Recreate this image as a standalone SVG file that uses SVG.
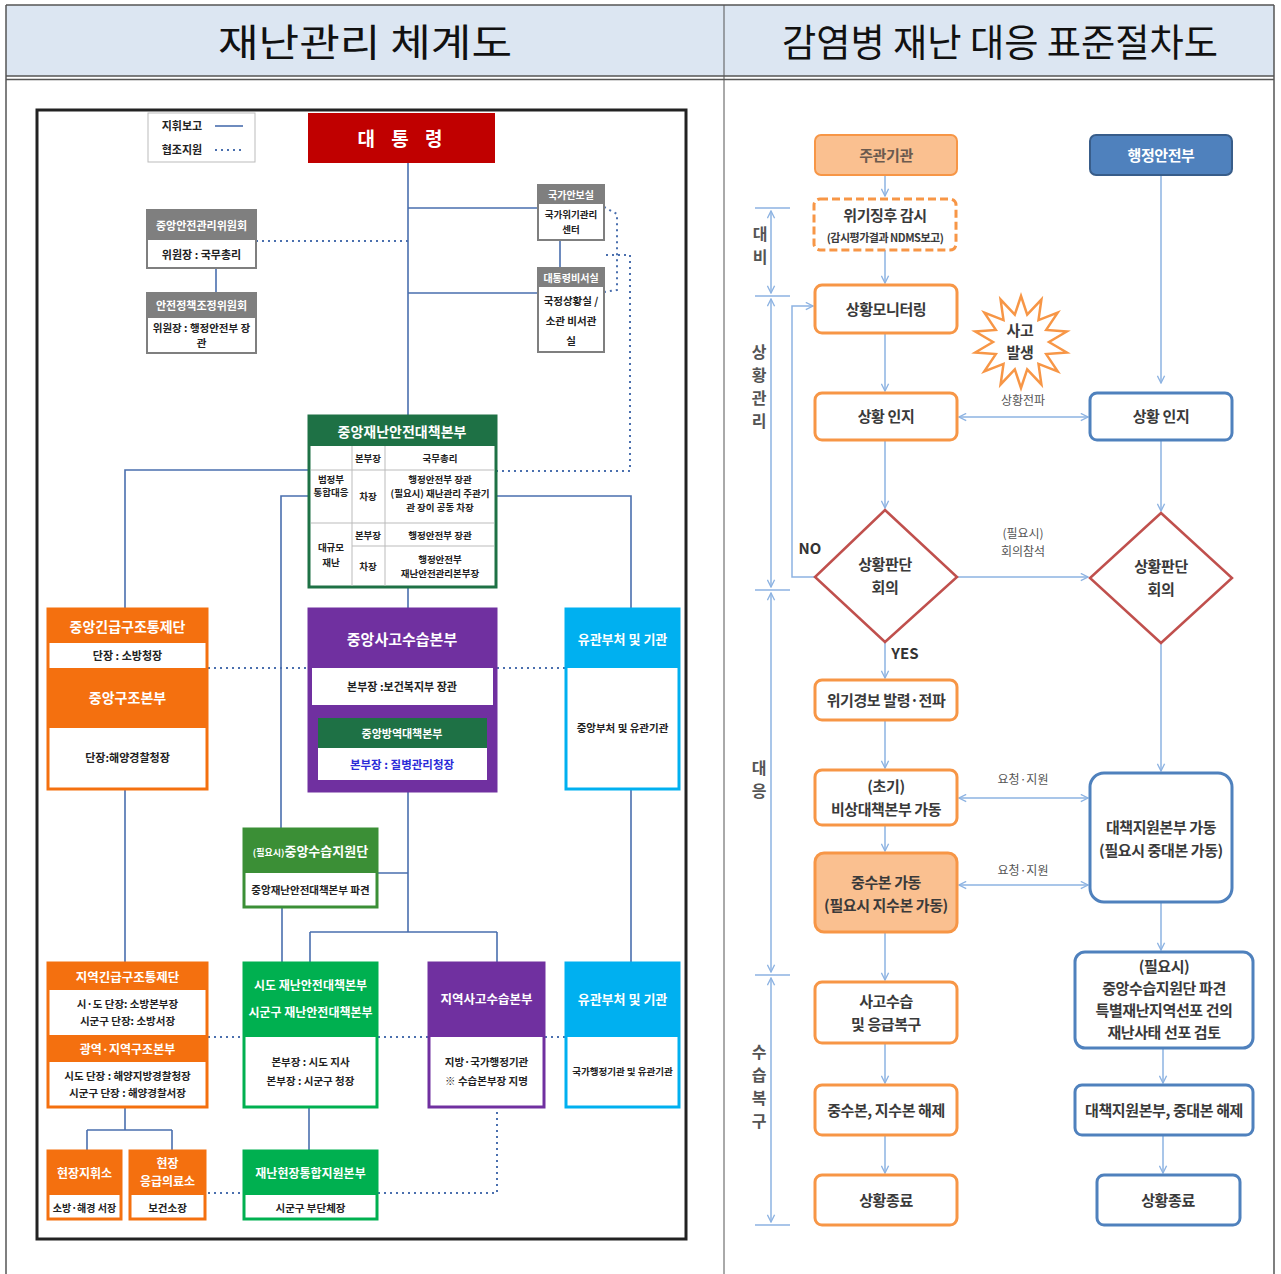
<svg xmlns="http://www.w3.org/2000/svg" width="1281" height="1274" viewBox="0 0 1281 1274">
<style>
text{font-family:"Noto Sans CJK KR","Noto Sans",sans-serif;}
.title{font-size:38px;fill:#111;}
.wh{fill:#fff;font-weight:bold;text-anchor:middle;}
.bk{fill:#222;font-weight:bold;text-anchor:middle;}
.ln{stroke:#4a6fae;stroke-width:1.6;fill:none;}
.dt{stroke:#4a6fae;stroke-width:2;fill:none;stroke-dasharray:2 4;}
.ob{fill:#fff;stroke:#f79646;stroke-width:3;}
.bb{fill:#fff;stroke:#4f81bd;stroke-width:3;}
.rt{font-size:15px;font-weight:bold;fill:#3a3a3a;text-anchor:middle;letter-spacing:-0.4px;}
.ar{stroke:#8db3e2;stroke-width:1.5;fill:none;}
.sm{font-size:12px;fill:#555;text-anchor:middle;}
.ph{font-size:16px;font-weight:bold;fill:#555;text-anchor:middle;}
.grid{stroke:#bbb;stroke-width:1;}
</style>
<defs>
<marker id="ah" viewBox="0 0 10 10" refX="9" refY="5" markerWidth="9" markerHeight="9" orient="auto-start-reverse" markerUnits="userSpaceOnUse"><path d="M1,1 L9,5 L1,9" fill="none" stroke="#8db3e2" stroke-width="1.5"/></marker>
<marker id="ph" viewBox="0 0 10 10" refX="9" refY="5" markerWidth="9" markerHeight="9" orient="auto-start-reverse" markerUnits="userSpaceOnUse"><path d="M1,1 L9,5 L1,9" fill="none" stroke="#8db3e2" stroke-width="1.5"/></marker>
</defs>
<rect width="1281" height="1274" fill="#fff"/>

<!-- header table -->
<g id="header">
<rect x="6" y="5" width="1268" height="71" fill="#dce6f2"/>
<line x1="6" y1="5" x2="1274" y2="5" stroke="#555" stroke-width="1.5"/>
<line x1="6" y1="76" x2="1274" y2="76" stroke="#555" stroke-width="1.5"/>
<line x1="6" y1="79.5" x2="1274" y2="79.5" stroke="#555" stroke-width="1.5"/>
<line x1="6" y1="5" x2="6" y2="1274" stroke="#555" stroke-width="1.5"/>
<line x1="1274" y1="5" x2="1274" y2="1274" stroke="#555" stroke-width="1.5"/>
<line x1="724" y1="5" x2="724" y2="1274" stroke="#555" stroke-width="1"/>
<text class="title" x="218" y="56" textLength="294" lengthAdjust="spacingAndGlyphs">재난관리  체계도</text>
<text class="title" x="782" y="56" textLength="436" lengthAdjust="spacingAndGlyphs">감염병 재난 대응 표준절차도</text>
</g>

<!-- LEFT CHART -->
<rect x="37" y="110" width="649" height="1129" fill="none" stroke="#222" stroke-width="3"/>

<g id="left-connectors">
<path class="ln" d="M408,163 V415"/>
<path class="ln" d="M408,208 H538 M408,293 H538 M560,240 V268 M216,268 V293"/>
<path class="dt" d="M256,241 H408"/>
<path class="dt" d="M604,207 L617,214 V290 L604,292"/>
<path class="dt" d="M606,255 H630 V471 H497"/>
<path class="ln" d="M308,470 H125 V608"/>
<path class="ln" d="M308,496 H281 V828"/>
<path class="ln" d="M497,496 H631 V608"/>
<path class="ln" d="M408,588 V608"/>
<path class="ln" d="M408,792 V932 M310,932 H497 M310,932 V962 M497,932 V962 M378,873 H408"/>
<path class="ln" d="M282,908 V962"/>
<path class="ln" d="M125,790 V962 M631,790 V962"/>
<path class="ln" d="M125,1108 V1130 M87,1130 H172 M87,1130 V1150 M172,1130 V1150"/>
<path class="ln" d="M309,1108 V1150"/>
<path class="dt" d="M208,668 H308 M497,668 H565"/>
<path class="dt" d="M208,1037 H243 M378,1037 H428 M545,1037 H565"/>
<path class="dt" d="M208,1193 H243 M378,1193 H497 V1108"/>
</g>

<g id="legend">
<rect x="148" y="113" width="107" height="49" fill="#fff" stroke="#bbb"/>
<text class="bk" x="182" y="130" font-size="11">지휘보고</text>
<line x1="215" y1="126" x2="243" y2="126" stroke="#4a6fae" stroke-width="1.6"/>
<text class="bk" x="182" y="154" font-size="11">협조지원</text>
<line x1="215" y1="150" x2="243" y2="150" class="dt" stroke-width="1.5"/>
</g>

<g id="president">
<rect x="308" y="113" width="187" height="50" fill="#c00000"/>
<text class="wh" x="403" y="146" font-size="19" letter-spacing="6">대 통 령</text>
</g>

<g id="central-safety-committee">
<rect x="147" y="210" width="109" height="58" fill="#fff" stroke="#7f7f7f" stroke-width="2"/>
<rect x="147" y="210" width="109" height="30" fill="#7f7f7f"/>
<text class="wh" x="201.5" y="230" font-size="11">중앙안전관리위원회</text>
<text class="bk" x="201.5" y="259" font-size="11">위원장 : 국무총리</text>
</g>

<g id="safety-policy-committee">
<rect x="147" y="293" width="109" height="60" fill="#fff" stroke="#7f7f7f" stroke-width="2"/>
<rect x="147" y="293" width="109" height="25" fill="#7f7f7f"/>
<text class="wh" x="201.5" y="310" font-size="11">안전정책조정위원회</text>
<text class="bk" x="201.5" y="332" font-size="10.5">위원장 : 행정안전부 장</text>
<text class="bk" x="201.5" y="347" font-size="10.5">관</text>
</g>

<g id="national-security-office">
<rect x="538" y="185" width="66" height="55" fill="#fff" stroke="#7f7f7f" stroke-width="2"/>
<rect x="538" y="185" width="66" height="19" fill="#7f7f7f"/>
<text class="wh" x="571" y="199" font-size="10">국가안보실</text>
<text class="bk" x="571" y="218" font-size="9.5">국가위기관리</text>
<text class="bk" x="571" y="233" font-size="9.5">센터</text>
</g>

<g id="presidential-secretariat">
<rect x="538" y="268" width="66" height="84" fill="#fff" stroke="#7f7f7f" stroke-width="2"/>
<rect x="538" y="268" width="66" height="19" fill="#7f7f7f"/>
<text class="wh" x="571" y="282" font-size="10">대통령비서실</text>
<text class="bk" x="571" y="305" font-size="10.5">국정상황실 /</text>
<text class="bk" x="571" y="325" font-size="10.5">소관 비서관</text>
<text class="bk" x="571" y="345" font-size="10.5">실</text>
</g>

<g id="cdsch">
<rect x="309" y="416" width="187" height="171" fill="#fff" stroke="#1e7145" stroke-width="3"/>
<rect x="309" y="416" width="187" height="30" fill="#1e7145"/>
<text class="wh" x="402" y="437" font-size="14">중앙재난안전대책본부</text>
<path class="grid" d="M311,470 H494 M311,523 H494 M352,546 H494 M352,446 V586 M385,446 V586"/>
<text class="bk" x="331" y="483" font-size="9.5">범정부</text>
<text class="bk" x="331" y="496" font-size="9.5">통합대응</text>
<text class="bk" x="368" y="462" font-size="9.5">본부장</text>
<text class="bk" x="368" y="500" font-size="9.5">차장</text>
<text class="bk" x="440" y="462" font-size="9.5">국무총리</text>
<text class="bk" x="440" y="483" font-size="9.5">행정안전부 장관</text>
<text class="bk" x="440" y="497" font-size="9.5">(필요시) 재난관리 주관기</text>
<text class="bk" x="440" y="511" font-size="9.5">관 장이 공동 차장</text>
<text class="bk" x="331" y="551" font-size="9.5">대규모</text>
<text class="bk" x="331" y="566" font-size="9.5">재난</text>
<text class="bk" x="368" y="539" font-size="9.5">본부장</text>
<text class="bk" x="368" y="570" font-size="9.5">차장</text>
<text class="bk" x="440" y="539" font-size="9.5">행정안전부 장관</text>
<text class="bk" x="440" y="563" font-size="9.5">행정안전부</text>
<text class="bk" x="440" y="577" font-size="9.5">재난안전관리본부장</text>
</g>

<g id="central-rescue">
<rect x="48" y="609" width="159" height="180" fill="#fff" stroke="#f4700f" stroke-width="3"/>
<rect x="48" y="609" width="159" height="34" fill="#f4700f"/>
<rect x="48" y="668" width="159" height="60" fill="#f4700f"/>
<text class="wh" x="127.5" y="632" font-size="14">중앙긴급구조통제단</text>
<text class="bk" x="127.5" y="660" font-size="11">단장 : 소방청장</text>
<text class="wh" x="127.5" y="703" font-size="14">중앙구조본부</text>
<text class="bk" x="127.5" y="762" font-size="11">단장:해양경찰청장</text>
</g>

<g id="central-accident-hq">
<rect x="309" y="609" width="187" height="182" fill="#7030a0" stroke="#7030a0" stroke-width="3"/>
<text class="wh" x="402" y="645" font-size="15">중앙사고수습본부</text>
<rect x="312" y="668" width="181" height="37" fill="#fff"/>
<text class="bk" x="402" y="691" font-size="11">본부장 :보건복지부 장관</text>
<rect x="318" y="718" width="169" height="30" fill="#1e7145"/>
<text class="wh" x="402" y="738" font-size="11">중앙방역대책본부</text>
<rect x="318" y="748" width="169" height="32" fill="#fff"/>
<text x="402" y="769" font-size="11.5" font-weight="bold" fill="#2b2bd8" text-anchor="middle">본부장 : 질병관리청장</text>
</g>

<g id="related-ministries">
<rect x="566" y="609" width="113" height="180" fill="#fff" stroke="#00b0f0" stroke-width="3"/>
<rect x="566" y="609" width="113" height="59" fill="#00b0f0"/>
<text class="wh" x="622.5" y="644" font-size="13">유관부처 및 기관</text>
<text class="bk" x="622.5" y="732" font-size="10.5">중앙부처 및 유관기관</text>
</g>

<g id="central-support-team">
<rect x="244" y="829" width="133" height="78" fill="#fff" stroke="#3b8f36" stroke-width="3"/>
<rect x="244" y="829" width="133" height="44" fill="#3b8f36"/>
<text class="wh" x="310.5" y="856" font-size="13"><tspan font-size="9">(필요시)</tspan>중앙수습지원단</text>
<text class="bk" x="310.5" y="894" font-size="10.5">중앙재난안전대책본부 파견</text>
</g>

<g id="regional-rescue">
<rect x="48" y="963" width="159" height="144" fill="#fff" stroke="#f4700f" stroke-width="3"/>
<rect x="48" y="963" width="159" height="27" fill="#f4700f"/>
<rect x="48" y="1035" width="159" height="27" fill="#f4700f"/>
<text class="wh" x="127.5" y="982" font-size="12.5">지역긴급구조통제단</text>
<text class="bk" x="127.5" y="1008" font-size="10.5">시·도 단장: 소방본부장</text>
<text class="bk" x="127.5" y="1025" font-size="10.5">시군구 단장: 소방서장</text>
<text class="wh" x="127.5" y="1054" font-size="12">광역·지역구조본부</text>
<text class="bk" x="127.5" y="1080" font-size="10.5">시도 단장 : 해양지방경찰청장</text>
<text class="bk" x="127.5" y="1097" font-size="10.5">시군구 단장 : 해양경찰서장</text>
</g>

<g id="local-dsch">
<rect x="244" y="963" width="133" height="144" fill="#fff" stroke="#00b050" stroke-width="3"/>
<rect x="244" y="963" width="133" height="74" fill="#00b050"/>
<text class="wh" x="310.5" y="990" font-size="12">시도 재난안전대책본부</text>
<text class="wh" x="310.5" y="1017" font-size="12">시군구 재난안전대책본부</text>
<text class="bk" x="310.5" y="1066" font-size="10.5">본부장 : 시도 지사</text>
<text class="bk" x="310.5" y="1085" font-size="10.5">본부장 : 시군구 청장</text>
</g>

<g id="regional-accident-hq">
<rect x="429" y="963" width="115" height="144" fill="#fff" stroke="#7030a0" stroke-width="3"/>
<rect x="429" y="963" width="115" height="74" fill="#7030a0"/>
<text class="wh" x="486.5" y="1004" font-size="12.5">지역사고수습본부</text>
<text class="bk" x="486.5" y="1066" font-size="10.5">지방·국가행정기관</text>
<text class="bk" x="486.5" y="1085" font-size="10.5">※ 수습본부장 지명</text>
</g>

<g id="related-ministries-2">
<rect x="566" y="963" width="113" height="144" fill="#fff" stroke="#00b0f0" stroke-width="3"/>
<rect x="566" y="963" width="113" height="74" fill="#00b0f0"/>
<text class="wh" x="622.5" y="1004" font-size="13">유관부처 및 기관</text>
<text class="bk" x="622.5" y="1075" font-size="9.5">국가행정기관 및 유관기관</text>
</g>

<g id="field-command">
<rect x="48" y="1151" width="73" height="68" fill="#fff" stroke="#f4700f" stroke-width="3"/>
<rect x="48" y="1151" width="73" height="44" fill="#f4700f"/>
<text class="wh" x="84.5" y="1178" font-size="12">현장지휘소</text>
<text class="bk" x="84.5" y="1212" font-size="10">소방·해경 서장</text>
</g>

<g id="field-medical">
<rect x="130" y="1151" width="75" height="68" fill="#fff" stroke="#f4700f" stroke-width="3"/>
<rect x="130" y="1151" width="75" height="44" fill="#f4700f"/>
<text class="wh" x="167.5" y="1168" font-size="12">현장</text>
<text class="wh" x="167.5" y="1186" font-size="12">응급의료소</text>
<text class="bk" x="167.5" y="1212" font-size="10.5">보건소장</text>
</g>

<g id="field-support-hq">
<rect x="244" y="1151" width="133" height="68" fill="#fff" stroke="#00b050" stroke-width="3"/>
<rect x="244" y="1151" width="133" height="44" fill="#00b050"/>
<text class="wh" x="310.5" y="1178" font-size="12">재난현장통합지원본부</text>
<text class="bk" x="310.5" y="1212" font-size="10.5">시군구 부단체장</text>
</g>

<!-- RIGHT CHART -->
<g id="phase-axis">
<path d="M755,208 H790 M755,296 H790 M755,590 H790 M755,975 H790 M755,1225 H790" stroke="#8db3e2" stroke-width="1.5"/>
<path class="ar" d="M771,211 V293" marker-start="url(#ph)" marker-end="url(#ph)"/>
<path class="ar" d="M771,299 V587" marker-start="url(#ph)" marker-end="url(#ph)"/>
<path class="ar" d="M771,593 V972" marker-start="url(#ph)" marker-end="url(#ph)"/>
<path class="ar" d="M771,978 V1222" marker-start="url(#ph)" marker-end="url(#ph)"/>
<rect x="752" y="222" width="16" height="50" fill="#fff"/>
<text class="ph" x="760" y="240">대</text>
<text class="ph" x="760" y="263">비</text>
<rect x="750" y="340" width="18" height="96" fill="#fff"/>
<text class="ph" x="759" y="358">상</text>
<text class="ph" x="759" y="381">황</text>
<text class="ph" x="759" y="404">관</text>
<text class="ph" x="759" y="427">리</text>
<rect x="750" y="757" width="18" height="46" fill="#fff"/>
<text class="ph" x="759" y="774">대</text>
<text class="ph" x="759" y="797">응</text>
<rect x="750" y="1040" width="18" height="96" fill="#fff"/>
<text class="ph" x="759" y="1058">수</text>
<text class="ph" x="759" y="1081">습</text>
<text class="ph" x="759" y="1104">복</text>
<text class="ph" x="759" y="1127">구</text>
</g>

<g id="right-connectors">
<path class="ar" d="M885,175 V196" marker-end="url(#ah)"/>
<path class="ar" d="M885,250 V283" marker-end="url(#ah)"/>
<path class="ar" d="M885,333 V391" marker-end="url(#ah)"/>
<path class="ar" d="M885,440 V508" marker-end="url(#ah)"/>
<path class="ar" d="M885,642 V678" marker-end="url(#ah)"/>
<path class="ar" d="M885,720 V768" marker-end="url(#ah)"/>
<path class="ar" d="M885,825 V851" marker-end="url(#ah)"/>
<path class="ar" d="M885,932 V980" marker-end="url(#ah)"/>
<path class="ar" d="M885,1043 V1083" marker-end="url(#ah)"/>
<path class="ar" d="M885,1135 V1173" marker-end="url(#ah)"/>
<path class="ar" d="M1161,175 V383" marker-end="url(#ah)"/>
<path class="ar" d="M1161,440 V511" marker-end="url(#ah)"/>
<path class="ar" d="M1161,643 V771" marker-end="url(#ah)"/>
<path class="ar" d="M1161,902 V950" marker-end="url(#ah)"/>
<path class="ar" d="M1163,1048 V1083" marker-end="url(#ah)"/>
<path class="ar" d="M1163,1135 V1173" marker-end="url(#ah)"/>
<path class="ar" d="M959,417 H1088" marker-start="url(#ah)" marker-end="url(#ah)"/>
<path class="ar" d="M957,577 H1088" marker-end="url(#ah)"/>
<path class="ar" d="M959,798 H1088" marker-start="url(#ah)" marker-end="url(#ah)"/>
<path class="ar" d="M959,885 H1088" marker-start="url(#ah)" marker-end="url(#ah)"/>
<path class="ar" d="M815,577 H792 V306 H813" marker-end="url(#ah)"/>
<text class="sm" x="1023" y="405">상황전파</text>
<text class="sm" x="1023" y="538">(필요시)</text>
<text class="sm" x="1023" y="556">회의참석</text>
<text class="sm" x="1023" y="784">요청·지원</text>
<text class="sm" x="1023" y="875">요청·지원</text>
<text x="810" y="554" font-size="15" font-weight="bold" fill="#333" text-anchor="middle">NO</text>
<text x="905" y="659" font-size="15" font-weight="bold" fill="#333" text-anchor="middle">YES</text>
</g>

<g id="lead-agency">
<rect x="815" y="135" width="142" height="40" rx="6" fill="#fac090" stroke="#f79646" stroke-width="2"/>
<text class="rt" x="886" y="161" style="fill:#6b5a4e">주관기관</text>
</g>
<g id="mois">
<rect x="1090" y="135" width="142" height="40" rx="6" fill="#4f81bd" stroke="#385d8a" stroke-width="2"/>
<text class="rt" x="1161" y="161" style="fill:#fff">행정안전부</text>
</g>
<g id="crisis-watch">
<rect x="814" y="199" width="142" height="51" rx="6" fill="#fff" stroke="#f79646" stroke-width="3" stroke-dasharray="8 4"/>
<text class="rt" x="885" y="221">위기징후 감시</text>
<text x="885" y="242" font-size="11" font-weight="bold" fill="#3a3a3a" text-anchor="middle" letter-spacing="-0.5">(감시평가결과 NDMS보고)</text>
</g>
<g id="monitoring">
<rect class="ob" x="815" y="285" width="142" height="48" rx="7"/>
<text class="rt" x="886" y="315">상황모니터링</text>
</g>
<g id="accident">
<polygon points="1021,296 1027.2,314.7 1041.4,299.6 1038.5,320.1 1057.7,312.7 1046.2,329.9 1066.8,331.5 1049,342 1066.8,352.5 1046.2,354.1 1057.7,371.3 1038.5,363.9 1041.4,384.4 1027.2,369.3 1021,388 1014.8,369.3 1000.6,384.4 1003.5,363.9 984.3,371.3 995.8,354.1 975.2,352.5 993,342 975.2,331.5 995.8,329.9 984.3,312.7 1003.5,320.1 1000.6,299.6 1014.8,314.7" fill="#fff" stroke="#f79646" stroke-width="2.5"/>
<text class="rt" x="1020" y="336">사고</text>
<text class="rt" x="1020" y="358">발생</text>
</g>
<g id="aware-left">
<rect class="ob" x="815" y="393" width="142" height="47" rx="7"/>
<text class="rt" x="886" y="422">상황 인지</text>
</g>
<g id="aware-right">
<rect class="bb" x="1090" y="393" width="142" height="47" rx="7"/>
<text class="rt" x="1161" y="422">상황 인지</text>
</g>
<g id="judge-left">
<polygon points="885,510 957,577 885,642 815,577" fill="#fff" stroke="#c0504d" stroke-width="2.5"/>
<text class="rt" x="885" y="570">상황판단</text>
<text class="rt" x="885" y="593">회의</text>
</g>
<g id="judge-right">
<polygon points="1161,513 1232,578 1161,643 1090,578" fill="#fff" stroke="#c0504d" stroke-width="2.5"/>
<text class="rt" x="1161" y="572">상황판단</text>
<text class="rt" x="1161" y="595">회의</text>
</g>
<g id="alert">
<rect class="ob" x="815" y="680" width="142" height="40" rx="7"/>
<text class="rt" x="886" y="706">위기경보 발령·전파</text>
</g>
<g id="emergency-hq">
<rect class="ob" x="815" y="770" width="142" height="55" rx="7"/>
<text class="rt" x="886" y="792">(초기)</text>
<text class="rt" x="886" y="815">비상대책본부 가동</text>
</g>
<g id="cdcsh-on">
<rect x="815" y="853" width="142" height="79" rx="9" fill="#fac090" stroke="#f79646" stroke-width="3"/>
<text class="rt" x="886" y="888">중수본 가동</text>
<text class="rt" x="886" y="911">(필요시 지수본 가동)</text>
</g>
<g id="recovery">
<rect class="ob" x="815" y="982" width="142" height="61" rx="7"/>
<text class="rt" x="886" y="1007">사고수습</text>
<text class="rt" x="886" y="1030">및 응급복구</text>
</g>
<g id="cdcsh-off">
<rect class="ob" x="815" y="1085" width="142" height="50" rx="7"/>
<text class="rt" x="886" y="1116">중수본, 지수본 해제</text>
</g>
<g id="end-left">
<rect class="ob" x="815" y="1175" width="142" height="50" rx="7"/>
<text class="rt" x="886" y="1206">상황종료</text>
</g>
<g id="support-hq-on">
<rect class="bb" x="1090" y="773" width="142" height="129" rx="14"/>
<text class="rt" x="1161" y="833">대책지원본부 가동</text>
<text class="rt" x="1161" y="856">(필요시 중대본 가동)</text>
</g>
<g id="if-needed">
<rect class="bb" x="1075" y="952" width="178" height="96" rx="10"/>
<text class="rt" x="1164" y="972">(필요시)</text>
<text class="rt" x="1164" y="994">중앙수습지원단 파견</text>
<text class="rt" x="1164" y="1016">특별재난지역선포 건의</text>
<text class="rt" x="1164" y="1038">재난사태 선포 검토</text>
</g>
<g id="support-hq-off">
<rect class="bb" x="1075" y="1085" width="178" height="50" rx="7"/>
<text class="rt" x="1164" y="1116">대책지원본부, 중대본 해제</text>
</g>
<g id="end-right">
<rect class="bb" x="1097" y="1175" width="143" height="50" rx="7"/>
<text class="rt" x="1168" y="1206">상황종료</text>
</g>
</svg>
